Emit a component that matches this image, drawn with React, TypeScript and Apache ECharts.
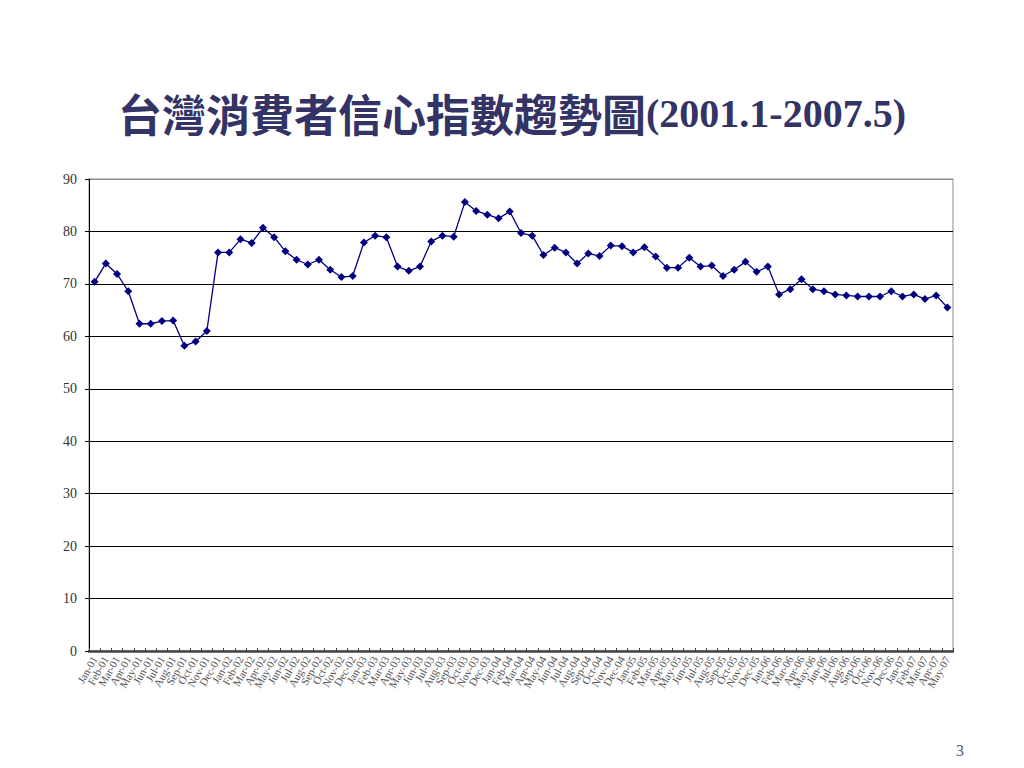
import React, { useEffect, useRef } from "react";
import * as echarts from "echarts";

const months = ["Jan", "Feb", "Mar", "Apr", "May", "Jun", "Jul", "Aug", "Sep", "Oct", "Nov", "Dec"];
const years = ["01", "02", "03", "04", "05", "06", "07"];
const categories: string[] = [];
for (const y of years) {
  for (const m of months) {
    if (y === "07" && months.indexOf(m) > 4) break;
    categories.push(`${m}-${y}`);
  }
}

const values2001 = [70.4, 73.9, 71.9, 68.6, 62.4, 62.4, 62.9, 63.0, 58.2, 59.0, 61.0, 76.0];
const values2002 = [76.0, 78.5, 77.8, 80.7, 78.9, 76.2, 74.6, 73.7, 74.6, 72.7, 71.3, 71.5];
const values2003 = [77.9, 79.2, 78.9, 73.3, 72.5, 73.3, 78.1, 79.2, 79.0, 85.6, 83.9, 83.2];
const values2004 = [82.5, 83.8, 79.7, 79.2, 75.5, 76.9, 76.0, 73.9, 75.8, 75.3, 77.3, 77.2];
const values2005 = [76.0, 77.0, 75.2, 73.1, 73.1, 75.0, 73.3, 73.5, 71.5, 72.7, 74.2, 72.3];
const values2006 = [73.3, 68.0, 69.0, 70.9, 69.0, 68.6, 68.0, 67.8, 67.6, 67.6, 67.6, 68.6];
const values2007 = [67.6, 68.0, 67.1, 67.8, 65.5];
const values = [...values2001, ...values2002, ...values2003, ...values2004, ...values2005, ...values2006, ...values2007];

const titleMain = "台灣消費者信心指數趨勢圖";
const titleRange = "(2001.1-2007.5)";
const pageNumber = "3";

export default function App() {
  const ref = useRef<HTMLDivElement>(null);
  useEffect(() => {
    if (!ref.current) return;
    const chart = echarts.init(ref.current, null, { renderer: "svg" });
    const gridColors = ["#000", "#000", "#000", "#000", "#000", "#000", "#000", "#000", "#000", "#8a8a8a"];
    chart.setOption({
      animation: false,
      backgroundColor: "#fff",
      title: {
        text: `{a|${titleMain}}{b|${titleRange}}`,
        left: "center",
        top: 86,
        textStyle: {
          rich: {
            a: { fontFamily: "Noto Sans CJK TC", fontWeight: "bold", fontSize: 44, color: "#333366" },
            b: { fontFamily: "Liberation Serif", fontWeight: "bold", fontSize: 40, color: "#333366" },
          },
        },
      },
      graphic: [
        {
          type: "text",
          left: 956,
          top: 742,
          style: { text: pageNumber, font: "16px 'Liberation Serif'", fill: "#55557a" },
        },
      ],
      grid: {
        left: 89,
        right: 71,
        top: 179,
        bottom: 117,
        show: true,
        borderColor: "#8a8a8a",
        borderWidth: 1,
        containLabel: false,
      },
      xAxis: {
        type: "category",
        data: categories,
        boundaryGap: true,
        axisLine: { lineStyle: { color: "#444", width: 2.5 } },
        axisTick: { show: true, inside: true, length: 3, lineStyle: { color: "#444" } },
        axisLabel: {
          interval: 0,
          rotate: 60,
          fontSize: 11,
          fontFamily: "Liberation Serif",
          color: "#555",
          margin: 6,
        },
      },
      yAxis: {
        type: "value",
        min: 0,
        max: 90,
        interval: 10,
        axisLine: { show: true, lineStyle: { color: "#000", width: 1 } },
        axisTick: { show: true, length: 4, lineStyle: { color: "#000" } },
        axisLabel: { fontSize: 14, fontFamily: "Liberation Serif", color: "#333", margin: 12 },
        splitLine: { show: true, lineStyle: { color: gridColors, width: 1 } },
      },
      series: [
        {
          type: "line",
          data: values,
          symbol: "diamond",
          symbolSize: 8,
          lineStyle: { color: "#000080", width: 1.3 },
          itemStyle: { color: "#000080" },
        },
      ],
    });
    return () => chart.dispose();
  }, []);
  return <div ref={ref} style={{ position: "fixed", left: 0, top: 0, width: 1024, height: 768 }} />;
}
